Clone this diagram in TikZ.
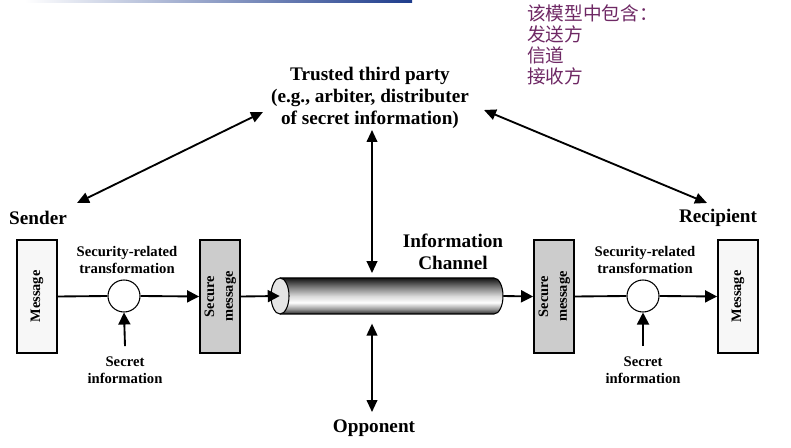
\documentclass[tikz,border=0pt]{standalone}
\usepackage{fontspec}
\setmainfont{Liberation Serif}
\newfontfamily\cjk{Noto Sans CJK SC}
\usetikzlibrary{arrows.meta}
\pgfdeclareverticalshading{cylshade}{100bp}{color(0bp)=(black!85); color(25bp)=(black!85); color(32bp)=(black!40); color(41bp)=(white); color(50bp)=(black!15); color(62bp)=(black!50); color(75bp)=(black!92); color(100bp)=(black!92)}
\definecolor{cjkcol}{RGB}{110,40,100}
\definecolor{barblue}{RGB}{30,60,140}
\begin{document}
\begin{tikzpicture}[x=0.75pt,y=-0.75pt,
  big/.style={font=\fontsize{14.4}{16.5}\selectfont\bfseries, align=center, inner sep=0},
  small/.style={font=\fontsize{11}{13}\selectfont\bfseries, align=center, inner sep=0},
  box/.style={draw, line width=1.4pt, minimum width=30pt, minimum height=84.75pt, inner sep=0, font=\fontsize{10.8}{13}\selectfont\bfseries},
  tcirc/.style={circle, draw, line width=0.8pt, minimum size=24pt, inner sep=0, fill=white},
  conn/.style={line width=1.4pt},
  arr/.style={conn, -{Triangle[length=9pt,width=9pt]}},
  darr/.style={conn, {Triangle[length=9pt,width=8pt]}-{Triangle[length=9pt,width=8pt]}}
]
\useasboundingbox (0,0) rectangle (791,448);
% top gradient bar
\shade[left color=white, right color=barblue] (25,0) rectangle (412,3);

% Chinese note
\node[anchor=north west, inner sep=0, align=left, text=cjkcol, font=\cjk\fontsize{14}{15.75}\selectfont] (cn) at (527,4) {该模型中包含：\\发送方\\信道\\接收方};

% labels
\node[big] (sender) at (38,218) {Sender};
\node[big] (recip) at (718,218) {Recipient};
\node[big] (ttp) at (370,98) {Trusted third party\\(e.g., arbiter, distributer\\of secret information)};
\node[big] (chan) at (453,252) {Information\\Channel};
\node[big] (opp) at (374,428) {Opponent};
\node[small] (srL) at (127,260) {Security-related\\transformation};
\node[small] (srR) at (645,260) {Security-related\\transformation};
\node[small] (siL) at (125,370) {Secret\\information};
\node[small] (siR) at (643,370) {Secret\\information};

% boxes
\node[box, fill=black!3] (msgL) at (37,296.5) {\rotatebox{90}{Message}};
\node[box, fill=black!20] (secL) at (220,296.5) {\rotatebox{90}{\begin{tabular}{@{}c@{}}Secure\\[1pt]message\end{tabular}}};
\node[box, fill=black!20] (secR) at (554,296.5) {\rotatebox{90}{\begin{tabular}{@{}c@{}}Secure\\[1pt]message\end{tabular}}};
\node[box, fill=black!3] (msgR) at (738,296.5) {\rotatebox{90}{Message}};

% cylinder
\shade[shading=cylshade] (280,278) -- (494,278) arc[start angle=90,end angle=-90,x radius=6.75pt,y radius=13.5pt] -- (280,314) -- cycle;
\draw[line width=0.8pt] (280,278) -- (494,278) arc[start angle=90,end angle=-90,x radius=6.75pt,y radius=13.5pt] -- (280,314);
\draw[fill=black!10, line width=0.8pt] (280,296) ellipse[x radius=6.75pt, y radius=13.5pt];
\node[minimum width=167.25pt, minimum height=27pt, inner sep=0] (cyl) at (391.5,296) {};

% transformations
\node[tcirc] (tL) at (124,296) {};
\node[tcirc] (tR) at (643,296) {};

% main flow
\draw[conn] (msgL.east) -- (tL.west);
\draw[arr] (tL.east) -- (secL.west);
\draw[arr] (secL.east) -- (cyl.west);
\draw[arr] (cyl.east) -- (secR.west);
\draw[conn] (secR.east) -- (tR.west);
\draw[arr] (tR.east) -- (msgR.west);

% secret information
\draw[arr] (siL.north) ++(0,-10) -- (tL.south);
\draw[arr] (siR.north) ++(0,-10) -- (tR.south);

% trusted third party and opponent
\coordinate (ttpA) at (372,130);
\coordinate (oppA) at (372,412);
\draw[darr, shorten >=3.5pt] (ttpA) -- (ttpA |- cyl.north);
\draw[darr, shorten >=7pt] (oppA) -- (oppA |- cyl.south);

\coordinate (dl1) at (77,203);
\coordinate (dl2) at (263,112);
\coordinate (dr1) at (484,110);
\coordinate (dr2) at (707,203);
\draw[darr] (dl1) -- (dl2);
\draw[darr] (dr1) -- (dr2);
\end{tikzpicture}
\end{document}
